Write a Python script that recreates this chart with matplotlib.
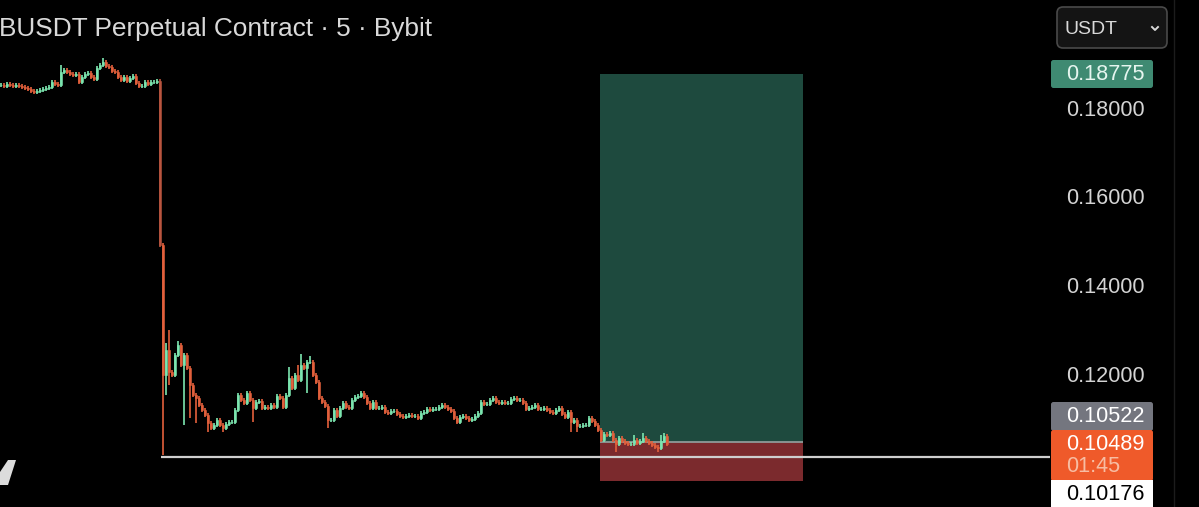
#!/usr/bin/env python3
"""Dark Bybit style candlestick chart with a long position box."""
import matplotlib
matplotlib.use('agg')
import matplotlib.pyplot as plt
from matplotlib.patches import FancyBboxPatch, Polygon, Rectangle
import numpy as np

plt.rcParams['font.family'] = ['Liberation Sans', 'DejaVu Sans']

title = "BUSDT Perpetual Contract · 5 · Bybit"

# one close per 5 minute candle
closes = [
    .1854, .1852, .1856, .1854, .1852, .1854, .1852, .1849, .1847, .1845,
    .1840, .1838, .1840, .1843, .1845, .1847, .1849, .1861, .1856, .1854,
    .1883, .1888, .1883, .1879, .1876, .1879, .1861, .1872, .1879, .1881,
    .1872, .1867, .1892, .1899, .1906, .1897, .1894, .1885, .1883, .1872,
    .1865, .1872, .1863, .1870, .1874, .1858, .1852, .1852, .1861, .1856,
    .1861, .1861, .1863,
    .1494, .1202, .1258, .1209, .1202, .1247, .1270, .1225, .1247, .1218,
    .1180, .1157, .1151, .1135, .1124, .1112, .1094, .1083, .1090, .1101,
    .1090, .1083, .1092, .1097, .1097, .1124, .1157, .1146, .1139, .1162,
    .1146, .1128, .1142, .1144, .1128, .1130, .1128, .1135, .1130, .1155,
    .1151, .1130, .1157, .1196, .1173, .1202, .1191, .1225, .1218, .1232,
    .1232, .1202, .1187, .1151, .1142, .1133, .1101, .1101, .1124, .1110,
    .1128, .1139, .1130, .1128, .1146, .1153, .1155, .1162, .1153, .1139,
    .1128, .1142, .1128, .1128, .1130, .1119, .1117, .1121, .1121, .1115,
    .1110, .1108, .1110, .1112, .1110, .1110, .1106, .1117, .1119, .1126,
    .1124, .1126, .1126, .1130, .1135, .1130, .1126, .1121, .1106, .1097,
    .1108, .1110, .1106, .1101, .1103, .1110, .1117, .1142, .1137, .1137,
    .1146, .1151, .1142, .1139, .1142, .1139, .1139, .1148, .1151, .1146,
    .1146, .1139, .1126, .1128, .1130, .1135, .1126, .1126, .1128, .1124,
    .1119, .1117, .1124, .1128, .1115, .1108, .1119, .1097, .1101, .1088,
    .1088, .1090, .1090, .1106, .1099, .1090, .1079, .1056, .1070, .1067,
    .1072, .1056, .1047, .1061, .1054, .1050, .1047, .1047, .1056, .1050,
    .1054, .1061, .1054, .1050, .1045, .1041, .1038, .1054, .1065, .1047,
]

# candles whose wicks stand out: candle number -> price
wick_highs = {
    20: .1899, 34: .1915, 53: .1867, 54: .1499, 55: .1274, 56: .1303,
    59: .1279, 96: .1220, 99: .1225, 100: .1249, 103: .1245, 211: .1067,
    214: .1072, 220: .1067, 221: .1072,
}
wick_lows = {
    54: .1022, 55: .1157, 56: .1180, 61: .1090, 63: .1106, 65: .1094,
    69: .1074, 74: .1074, 84: .1097, 102: .1162, 109: .1083, 190: .1074,
    192: .1074, 205: .1029, 219: .1029,
}

axis_prices = [0.18, 0.16, 0.14, 0.12]
entry_price = 0.10522
target_price = 0.18775
stop_price = 0.09640
support_price = 0.10176
last_price = 0.10489
countdown = "01:45"

box_start, box_end = 199.67, 267.33   # candle numbers
support_start, support_end = 53.3, 349.67

GREEN = '#7ce6b0'
RED = '#e2603c'
WICK = 0.0004


def draw_candles(ax):
    idx = np.arange(len(closes))
    c = np.array(closes)
    o = np.r_[c[0], c[:-1]]
    colors = [GREEN if a >= b else RED for a, b in zip(c, o)]
    colors[53] = '#b9553f'

    top = np.maximum(o, c) + WICK
    bottom = np.minimum(o, c) - WICK
    for i, price in wick_highs.items():
        top[i] = price
    for i, price in wick_lows.items():
        bottom[i] = price

    ax.vlines(idx, bottom, top, colors=colors, linewidth=1.2, zorder=4)
    ax.bar(idx, np.abs(c - o), bottom=np.minimum(o, c), width=0.7, color=colors,
           edgecolor=colors, linewidth=0.4, zorder=5)


def price_tag(ui, y0, y1, color):
    ui.add_patch(FancyBboxPatch((1051, y0), 102, y1 - y0, boxstyle="round,pad=0,rounding_size=2.5",
                                facecolor=color, edgecolor='none', zorder=3))


fig = plt.figure(figsize=(11.99, 5.07), dpi=100, facecolor='black')
ax = fig.add_axes([0, 0, 1, 1])
ax.set_facecolor('black')
ax.set_xlim(-1 / 3, 1198 / 3)
ax.set_ylim(0.09056, 0.20449)
ax.axis('off')

# position box
ax.add_patch(Rectangle((box_start, entry_price), box_end - box_start, target_price - entry_price,
                       facecolor='#1e4a3e', edgecolor='none', zorder=1))
ax.add_patch(Rectangle((box_start, stop_price), box_end - box_start, entry_price - stop_price,
                       facecolor='#7b2a2d', edgecolor='none', zorder=1))
ax.hlines(entry_price, box_start, box_end, colors='#8f9a98', linewidth=1.3, zorder=2)

draw_candles(ax)

ax.hlines(support_price, support_start, support_end, colors='#cfcfcf', linewidth=1.6, zorder=6)

# everything around the plot is placed in pixels
ui = fig.add_axes([0, 0, 1, 1])
ui.set_xlim(0, 1199)
ui.set_ylim(507, 0)
ui.axis('off')
ui.patch.set_alpha(0)

ui.text(-1, 29, title, color='#d9d9d9', fontsize=18.9, va='center', ha='left')
ui.add_patch(Polygon([(8, 460), (16, 460), (8, 485), (0, 485), (0, 472)], facecolor='#dcdcdc', edgecolor='none'))

ui.axvline(1174, color='#1c1c1c', linewidth=1)

ui.add_patch(FancyBboxPatch((1057, 7), 110, 41, boxstyle="round,pad=0,rounding_size=6",
                            facecolor='#141414', edgecolor='#4a4a4a', linewidth=1.2))
ui.text(1064, 29, "USDT", color='#d9d9d9', fontsize=14, va='center', ha='left')
ui.plot([1152, 1155, 1158], [27, 30, 27], color='#d9d9d9', linewidth=1.4)

price_tag(ui, 60, 88, '#3f8a72')
price_tag(ui, 402, 431, '#74767f')
price_tag(ui, 430, 481, '#ef5a2a')
ui.add_patch(Rectangle((1051, 480), 102, 27, facecolor='white', edgecolor='none', zorder=4))

label_x = 1105
text_style = dict(fontsize=15.6, ha='center', va='center', zorder=6)
for price in axis_prices:
    y = 110 + (0.18 - price) * 4450
    ui.text(label_x, y, f"{price:.5f}", color='#d4d4d4', **text_style)
ui.text(label_x, 75, f"{target_price:.5f}", color='#e6f5ef', **text_style)
ui.text(label_x, 417, f"{entry_price:.5f}", color='white', **text_style)
ui.text(label_x, 445, f"{last_price:.5f}", color='white', **text_style)
ui.text(1066, 467, countdown, color='#f7bda3', fontsize=15.6, ha='left', va='center', zorder=6)
ui.text(label_x, 495, f"{support_price:.5f}", color='black', **text_style)

plt.savefig('out.png', dpi=100, facecolor='black')
plt.close(fig)
